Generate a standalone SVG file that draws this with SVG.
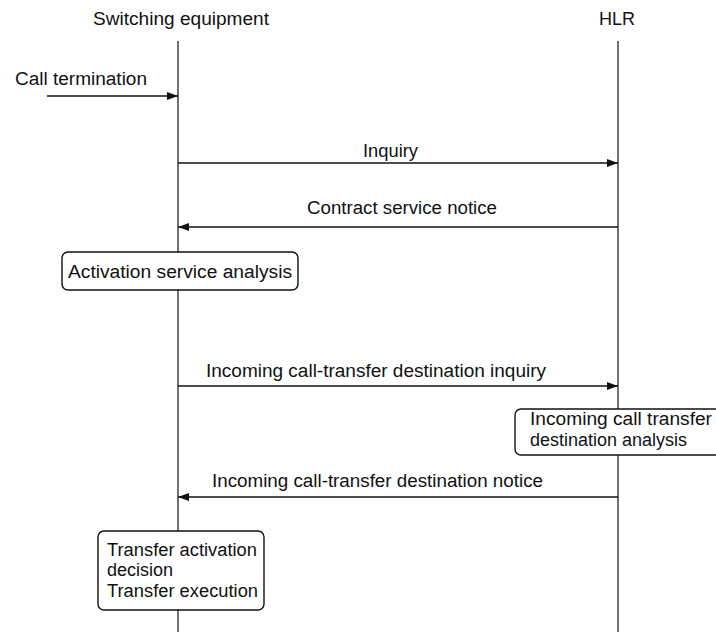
<svg xmlns="http://www.w3.org/2000/svg" width="716" height="632" viewBox="0 0 716 632">
  <style>
    text { font-family: "Liberation Sans", Arial, sans-serif; font-size: 18px; fill: #111; }
    .life { stroke: #111; stroke-width: 1.2; fill: none; }
    .msg { stroke: #111; stroke-width: 1.4; fill: none; }
    .box { fill: #fff; stroke: #111; stroke-width: 1.4; }
  </style>
  <defs>
    <marker id="arrow" viewBox="0 0 11 8" refX="11" refY="4" markerWidth="11" markerHeight="8" markerUnits="userSpaceOnUse" orient="auto">
      <path d="M0,0 L11,4 L0,8 z" fill="#111"/>
    </marker>
  </defs>
  <rect width="716" height="632" fill="#fff"/>

  <!-- participants -->
  <g id="switching">
    <text x="93" y="25" textLength="176" lengthAdjust="spacingAndGlyphs">Switching equipment</text>
    <line class="life" x1="178" y1="41" x2="178" y2="632"/>
  </g>
  <g id="hlr">
    <text x="599" y="25" textLength="36" lengthAdjust="spacingAndGlyphs">HLR</text>
    <line class="life" x1="618" y1="41" x2="618" y2="632"/>
  </g>

  <!-- messages -->
  <g id="connectors">
    <line class="msg" x1="47" y1="96" x2="178" y2="96" marker-end="url(#arrow)"/>
    <line class="msg" x1="178" y1="163" x2="618" y2="163" marker-end="url(#arrow)"/>
    <line class="msg" x1="618" y1="227" x2="178" y2="227" marker-end="url(#arrow)"/>
    <line class="msg" x1="178" y1="386" x2="618" y2="386" marker-end="url(#arrow)"/>
    <line class="msg" x1="618" y1="497" x2="178" y2="497" marker-end="url(#arrow)"/>
  </g>

  <g id="labels">
    <text x="15" y="85" textLength="132" lengthAdjust="spacingAndGlyphs">Call termination</text>
    <text x="363" y="157" textLength="55" lengthAdjust="spacingAndGlyphs">Inquiry</text>
    <text x="307" y="214" textLength="190" lengthAdjust="spacingAndGlyphs">Contract service notice</text>
    <text x="206" y="377" textLength="340" lengthAdjust="spacingAndGlyphs">Incoming call-transfer destination inquiry</text>
    <text x="212" y="487" textLength="331" lengthAdjust="spacingAndGlyphs">Incoming call-transfer destination notice</text>
  </g>

  <!-- activities -->
  <g id="activation-analysis">
    <rect class="box" x="62" y="252" width="236" height="38" rx="6"/>
    <text x="68" y="278" textLength="224" lengthAdjust="spacingAndGlyphs">Activation service analysis</text>
  </g>
  <g id="destination-analysis">
    <rect class="box" x="515" y="409" width="210" height="46" rx="6"/>
    <text x="530" y="425" textLength="182" lengthAdjust="spacingAndGlyphs">Incoming call transfer</text>
    <text x="530" y="446" textLength="157" lengthAdjust="spacingAndGlyphs">destination analysis</text>
  </g>
  <g id="transfer-execution">
    <rect class="box" x="98" y="531" width="166" height="79" rx="6"/>
    <text x="107" y="556" textLength="150" lengthAdjust="spacingAndGlyphs">Transfer activation</text>
    <text x="107" y="576">decision</text>
    <text x="107" y="597" textLength="151" lengthAdjust="spacingAndGlyphs">Transfer execution</text>
  </g>
</svg>
